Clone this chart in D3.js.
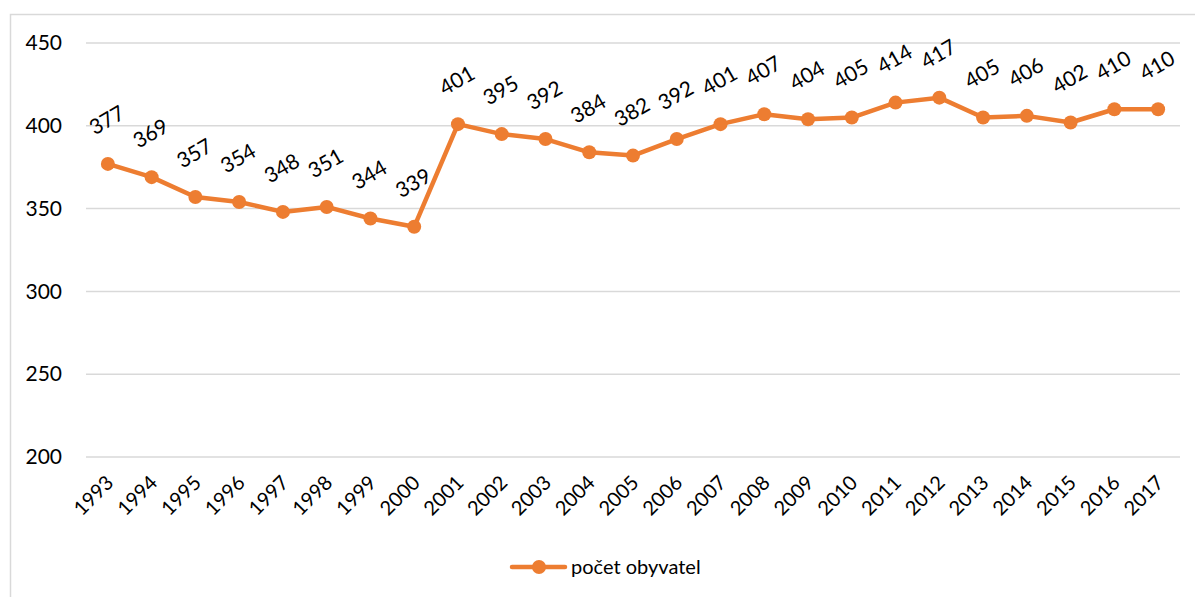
<!DOCTYPE html>
<html>
<head>
<meta charset="utf-8">
<script src="https://cdn.jsdelivr.net/npm/d3@7"></script>
<style>
  body { margin: 0; background: #fff; }
  text { font-family: Lato, "Open Sans", sans-serif; fill: #000; }
</style>
</head>
<body>
<script>
var years = ['1993', '1994', '1995', '1996', '1997', '1998', '1999', '2000', '2001', '2002',
	'2003', '2004', '2005', '2006', '2007', '2008', '2009', '2010', '2011', '2012',
	'2013', '2014', '2015', '2016', '2017'];
var obyvatel = [377, 369, 357, 354, 348, 351, 344, 339, 401, 395,
	392, 384, 382, 392, 401, 407, 404, 405, 414, 417,
	405, 406, 402, 410, 410];
var yTicks = [200, 250, 300, 350, 400, 450];
var seriesName = 'počet obyvatel';

var W = 1195, H = 597;
var margin = {top: 43, left: 86},
	width = 1180 - margin.left,
	height = 457 - margin.top;

var orange = '#ED7D31';
var font = 'Lato, "Open Sans", sans-serif';

var svg = d3.select('body').append('svg')
	.attr('width', W)
	.attr('height', H);

// chart frame
svg.append('rect')
	.attr('x', 10.5).attr('y', 14.5)
	.attr('width', W).attr('height', H)
	.attr('fill', 'none')
	.attr('stroke', '#d9d9d9')
	.attr('stroke-width', 1.5);

var main = svg.append('g')
	.attr('transform', 'translate(' + margin.left + ',' + margin.top + ')');

var x = d3.scaleBand()
	.domain(years)
	.range([0, width]);

var y = d3.scaleLinear()
	.domain([200, 450])
	.range([height, 0]);

// gridlines
main.append('g')
	.selectAll('line')
	.data(yTicks)
	.enter().append('line')
		.attr('x1', 0).attr('x2', width)
		.attr('y1', function(d) { return y(d); })
		.attr('y2', function(d) { return y(d); })
		.attr('stroke', '#d9d9d9')
		.attr('stroke-width', 1.5);

// y axis labels
var yAxis = d3.axisLeft(y).tickValues(yTicks).tickSize(0).tickPadding(24);
main.append('g')
	.call(yAxis)
	.call(function(g) { g.select('.domain').remove(); })
	.selectAll('text')
		.style('font-size', '21px')
		.style('font-family', font)
		.attr('fill', '#000');

// x axis labels
var xAxis = d3.axisBottom(x).tickSize(0);
main.append('g')
	.attr('transform', 'translate(0,' + height + ')')
	.call(xAxis)
	.call(function(g) { g.select('.domain').remove(); })
	.selectAll('text')
		.style('font-size', '20px')
		.style('font-family', font)
		.attr('fill', '#000')
		.attr('text-anchor', 'end')
		.attr('x', 0).attr('y', 0)
		.attr('dy', '0.35em')
		.attr('transform', 'translate(2,22) rotate(-45)');

var cx = function(d, i) { return x(years[i]) + x.bandwidth() / 2; };

// line
var line = d3.line()
	.x(function(d, i) { return cx(d, i); })
	.y(function(d) { return y(d); });

main.append('path')
	.datum(obyvatel)
	.attr('d', line)
	.attr('fill', 'none')
	.attr('stroke', orange)
	.attr('stroke-width', 4.5)
	.attr('stroke-linejoin', 'round');

main.selectAll('circle.pt')
	.data(obyvatel)
	.enter().append('circle')
		.attr('class', 'pt')
		.attr('cx', cx)
		.attr('cy', function(d) { return y(d); })
		.attr('r', 7)
		.attr('fill', orange);

// data labels
main.selectAll('text.lbl')
	.data(obyvatel)
	.enter().append('text')
		.attr('class', 'lbl')
		.attr('text-anchor', 'middle')
		.attr('dominant-baseline', 'middle')
		.style('font-size', '21px')
		.attr('transform', function(d, i) {
			return 'translate(' + cx(d, i) + ',' + (y(d) - 42) + ') rotate(-30)';
		})
		.text(function(d) { return d; });

// legend
var leg = svg.append('g').attr('transform', 'translate(512,567)');
leg.append('line')
	.attr('x1', 0).attr('x2', 53)
	.attr('stroke', orange)
	.attr('stroke-width', 4.5)
	.attr('stroke-linecap', 'round');
leg.append('circle')
	.attr('cx', 27).attr('r', 7)
	.attr('fill', orange);
leg.append('text')
	.attr('x', 59)
	.attr('dy', '0.35em')
	.style('font-size', '20px')
	.text(seriesName);
</script>
</body>
</html>
